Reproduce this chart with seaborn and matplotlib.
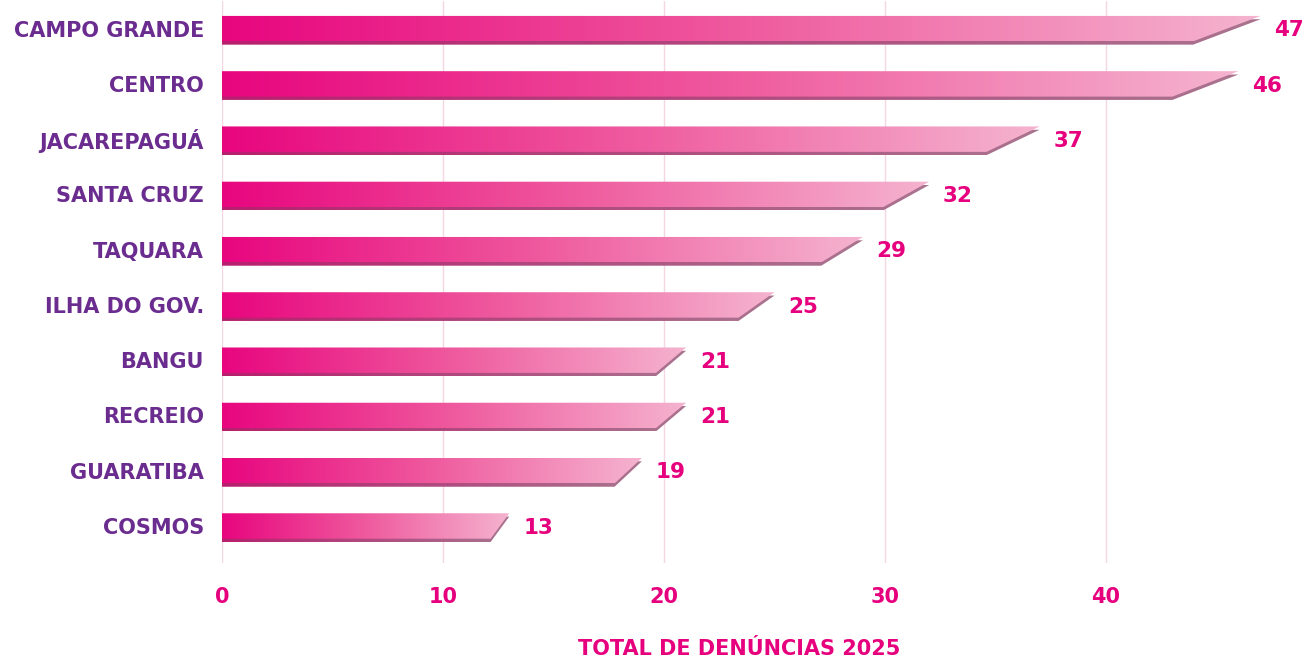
import numpy as np
import pandas as pd
import seaborn as sns
import matplotlib.pyplot as plt
from matplotlib.patches import Polygon
from matplotlib.colors import LinearSegmentedColormap

bairros = ["CAMPO GRANDE", "CENTRO", "JACAREPAGUÁ", "SANTA CRUZ", "TAQUARA",
           "ILHA DO GOV.", "BANGU", "RECREIO", "GUARATIBA", "COSMOS"]
denuncias = [47, 46, 37, 32, 29, 25, 21, 21, 19, 13]
xticks = [0, 10, 20, 30, 40]

df = pd.DataFrame({"bairro": bairros, "total": denuncias})

magenta = "#E6007E"
purple = "#6B2C8F"
bar_cmap = LinearSegmentedColormap.from_list("bar", ["#E8067F", "#EF5A9E", "#F5B3CF"])
shadow_cmap = LinearSegmentedColormap.from_list("shadow", ["#B81F6E", "#A9748F"])

sns.set_style("white")
plt.rcParams["font.family"] = ["DejaVu Sans"]

fig = plt.figure(figsize=(13.13, 6.59), dpi=100)
ax = fig.add_axes([222 / 1313, 96 / 659, 1 - 222 / 1313, 562 / 659])

sns.barplot(data=df, x="total", y="bairro", orient="h", width=0.46,
            color=magenta, ax=ax)

grad = np.linspace(0, 1, 256).reshape(1, -1)
shift = 0.06
for patch, v in zip(ax.patches, denuncias):
    x0 = patch.get_x()
    top = patch.get_y()
    h = patch.get_height()
    bot = top + h
    w = patch.get_width()
    cut = w * 0.935
    patch.set_visible(False)
    # shadow
    sh = Polygon([(x0, top + shift), (w, top + shift), (cut, bot + shift), (x0, bot + shift)],
                 closed=True, facecolor="none", edgecolor="none", transform=ax.transData)
    ax.add_patch(sh)
    im = ax.imshow(grad, cmap=shadow_cmap, aspect="auto", interpolation="bilinear",
                   extent=(x0, w, bot + shift, top + shift), zorder=2)
    im.set_clip_path(sh)
    # bar
    poly = Polygon([(x0, top), (w, top), (cut, bot), (x0, bot)], closed=True,
                   facecolor="none", edgecolor="none", transform=ax.transData)
    ax.add_patch(poly)
    im = ax.imshow(grad, cmap=bar_cmap, aspect="auto", interpolation="bilinear",
                   extent=(x0, w, bot, top), zorder=3)
    im.set_clip_path(poly)
    ax.annotate(str(v), xy=(w, top + h / 2 + shift / 2), xytext=(10, 0),
                textcoords="offset points", ha="left", va="center",
                color=magenta, fontsize=15.5, fontweight="bold")

ax.set_xlim(0, 49.37)
ax.set_ylim(9.67, -0.5)
ax.set_xticks(xticks)
ax.grid(axis="x", color="#F4D6E4", linewidth=1)
ax.set_axisbelow(True)
for s in ax.spines.values():
    s.set_visible(False)

ax.tick_params(axis="y", length=0, pad=13, labelsize=15, labelcolor=purple)
ax.tick_params(axis="x", length=0, pad=17, labelsize=15, labelcolor=magenta)
for t in ax.get_yticklabels() + ax.get_xticklabels():
    t.set_fontweight("bold")

ax.set_ylabel("")
ax.set_xlabel("TOTAL DE DENÚNCIAS 2025", color=magenta, fontsize=15, fontweight="bold")
ax.xaxis.set_label_coords(0.474, -0.135)

fig.savefig("out.png", dpi=100)
